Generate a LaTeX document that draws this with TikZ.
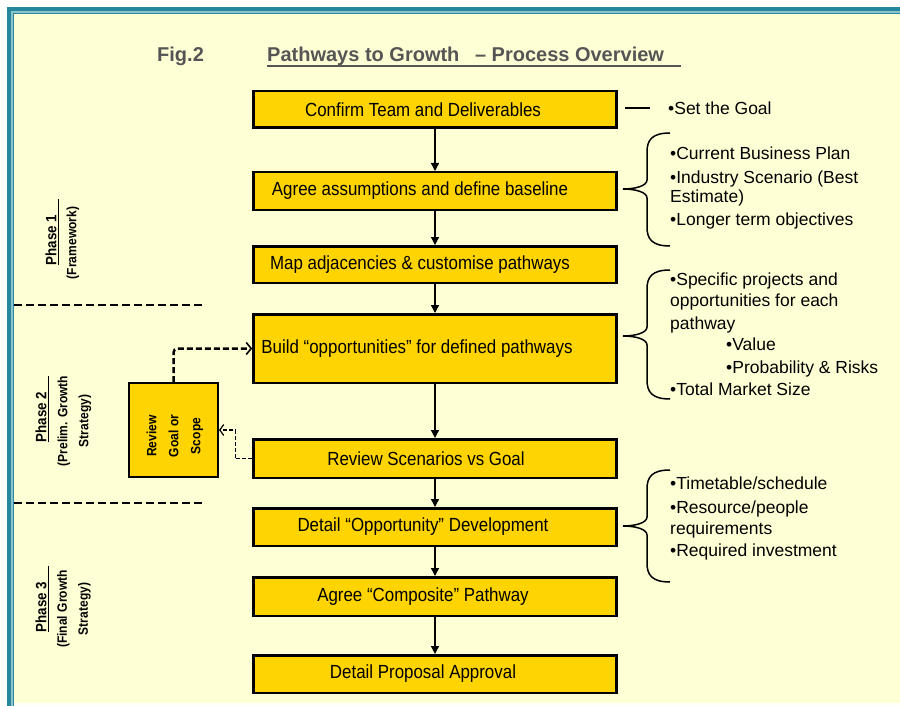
\documentclass[tikz,border=0pt]{standalone}
\usepackage{fontspec}
\setmainfont{Liberation Sans}
\newfontfamily\boxfont{Liberation Sans}[FakeStretch=0.89]
\usetikzlibrary{arrows.meta}
\definecolor{bgyel}{RGB}{255,255,214}
\definecolor{boxyel}{RGB}{255,212,0}
\definecolor{tealA}{RGB}{38,134,156}
\definecolor{tealB}{RGB}{140,195,205}
\definecolor{titlegray}{RGB}{85,85,85}
\newcommand\shiftL[2]{#2\hspace*{#1pt}}
\newcommand\mybrace[3]{\draw[bracestroke] (670,#1) .. controls (652,#1) and (647,#1+7) .. (647,#1+19) -- (647,#2-9) .. controls (647,#2-3) and (635,#2) .. (623,#2) .. controls (635,#2) and (647,#2+3) .. (647,#2+9) -- (647,#3-19) .. controls (647,#3-7) and (652,#3) .. (670,#3);}
\begin{document}
\begin{tikzpicture}[x=1pt,y=-1pt,
  pbox/.style={draw=black, line width=2.5pt, fill=boxyel, minimum width=363pt, inner sep=0pt, font=\boxfont\fontsize{19}{22}\selectfont},
  flow/.style={line width=1.3pt, -{Triangle[length=8pt,width=8pt]}},
  note/.style={anchor=north west, inner sep=0pt, align=left, font=\fontsize{17.5}{21}\selectfont},
  bracestroke/.style={line width=1.5pt},
  phasehead/.style={rotate=90, inner xsep=0pt, inner ysep=2pt, font=\boxfont\bfseries\fontsize{15}{18}\selectfont},
  phasesub/.style={rotate=90, inner sep=0pt, align=center, font=\boxfont\bfseries\fontsize{13.5}{21}\selectfont},
  titletext/.style={anchor=base west, inner sep=0pt, text=titlegray, font=\bfseries\fontsize{20}{22}\selectfont}
]
% frame and background
\fill[white] (0,0) rectangle (900,706);
\fill[tealA] (7,7) rectangle (900,706);
\fill[tealB] (11,11) rectangle (900,706);
\fill[tealA] (13,13) rectangle (900,706);
\fill[bgyel] (14,14) rectangle (900,703);
\fill[white!85!bgyel] (14,703) rectangle (900,706);
\useasboundingbox (0,0) rectangle (900,706);

% title
\node[titletext] (fig) at (157,62) {Fig.2};
\node[titletext] (ttl) at (267,62) {Pathways to Growth\hspace{10pt} – Process Overview};
\draw[titlegray, line width=2pt] (ttl.base west) ++(0,4) -- ++(414,0);

% process boxes
\node[pbox, minimum height=36.5pt] (b1) at (435,109.5) {\shiftL{24}{Confirm Team and Deliverables}};
\node[pbox, minimum height=37.5pt] (b2) at (435,191) {\shiftL{30}{Agree assumptions and define baseline}};
\node[pbox, minimum height=36.5pt] (b3) at (435,264.5) {\shiftL{30}{Map adjacencies \& customise pathways}};
\node[pbox, minimum height=68.5pt] (b4) at (435,348.5) {\shiftL{36}{Build “opportunities” for defined pathways}};
\node[pbox, minimum height=38.5pt] (b5) at (435,458.5) {\shiftL{18}{Review Scenarios vs Goal}};
\node[pbox, minimum height=37.5pt] (b6) at (435,527) {\shiftL{24}{Detail “Opportunity” Development}};
\node[pbox, minimum height=38.5pt] (b7) at (435,596.5) {\shiftL{24}{Agree “Composite” Pathway}};
\node[pbox, minimum height=37.5pt] (b8) at (435,674) {\shiftL{24}{Detail Proposal Approval}};

\draw[flow] (b1) -- (b2);
\draw[flow] (b2) -- (b3);
\draw[flow] (b3) -- (b4);
\draw[flow] (b4) -- (b5);
\draw[flow] (b5) -- (b6);
\draw[flow] (b6) -- (b7);
\draw[flow] (b7) -- (b8);

% review box
\node[draw=black, line width=2pt, fill=boxyel, minimum width=89pt, minimum height=94pt, inner sep=0pt] (rv) at (173.5,430) {};
\node[phasesub, font=\boxfont\bfseries\fontsize{13.5}{22}\selectfont] (rvt) at (175,436) {Review\\Goal or\\Scope};

\draw[line width=2.5pt, dash pattern=on 6pt off 3pt, rounded corners=4pt, -{Straight Barb[length=5pt,width=12pt,line width=1.6pt]}] (rv.north) |- (b4.west);
\draw[line width=1.2pt, dash pattern=on 4pt off 2pt, -{Straight Barb[length=4pt,width=11pt,line width=1.2pt]}] (b5.west) -- ++(-17,0) |- (rv.east);

% phase separators
\draw[line width=2.5pt, dash pattern=on 8pt off 4pt] (14,305) -- (203,305);
\draw[line width=1.3pt, dash pattern=on 8pt off 4pt] (14,503) -- (203,503);

% phase labels
\node[phasehead] (p1) at (51,232) {Phase 1\hspace*{16pt}};
\draw[line width=1.5pt] (p1.south west) -- (p1.south east);
\node[phasesub] (p1s) at (73,243) {(Framework)};
\node[phasehead] (p2) at (41,409) {Phase 2\hspace*{16pt}};
\draw[line width=1.5pt] (p2.south west) -- (p2.south east);
\node[phasesub] (p2s) at (74.5,421) {(Prelim. Growth\\Strategy)};
\node[phasehead] (p3) at (41,599) {Phase 3\hspace*{16pt}};
\draw[line width=1.5pt] (p3.south west) -- (p3.south east);
\node[phasesub] (p3s) at (74,609) {(Final Growth\\Strategy)};

% notes
\draw[line width=1.3pt] (625,108) -- (650,108);
\node[note, anchor=west] (n1) at (668,108) {•Set the Goal};

\mybrace{133}{189}{246}
\node[note] (n2) at (670,147) {•Current Business Plan\\[3pt]•Industry Scenario (Best\\[-2pt]Estimate)\\[2pt]•Longer term objectives};

\mybrace{270}{336}{399}
\node[note] (n3) at (670,273) {•Specific projects and\\opportunities for each\\[2pt]pathway\\\hspace*{56pt}•Value\\[2pt]\hspace*{56pt}•Probability \& Risks\\[1pt]•Total Market Size};

\mybrace{470}{526}{582}
\node[note] (n4) at (670,477) {•Timetable/schedule\\[3pt]•Resource/people\\requirements\\[1pt]•Required investment};
\end{tikzpicture}
\end{document}
